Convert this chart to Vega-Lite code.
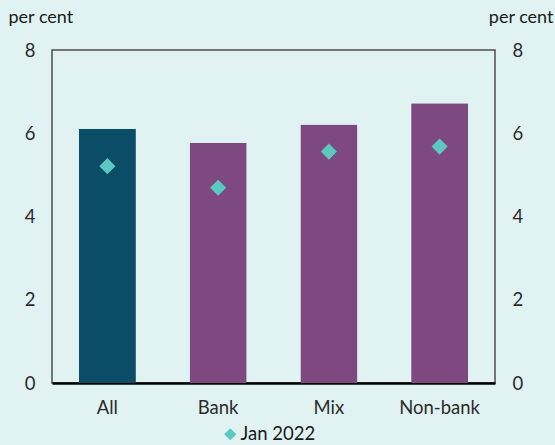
{
  "$schema": "https://vega.github.io/schema/vega-lite/v6.json",
  "width": 443,
  "height": 333,
  "autosize": {"type": "none"},
  "padding": {"left": 52, "top": 50, "right": 60, "bottom": 62},
  "background": "#e0f3f2",
  "config": {
    "font": "Lato",
    "view": {"stroke": "#4d4d4d", "strokeWidth": 1.5},
    "axis": {"labelFont": "Lato", "labelColor": "#2b2b2b", "titleFont": "Lato", "titleColor": "#1a1a1a", "grid": false, "ticks": false}
  },
  "data": {
    "values": [
      {"category": "All", "value": 6.11, "jan2022": 5.21, "group": "all", "series": "Jan 2022"},
      {"category": "Bank", "value": 5.77, "jan2022": 4.69, "group": "other", "series": "Jan 2022"},
      {"category": "Mix", "value": 6.21, "jan2022": 5.56, "group": "other", "series": "Jan 2022"},
      {"category": "Non-bank", "value": 6.72, "jan2022": 5.68, "group": "other", "series": "Jan 2022"}
    ]
  },
  "encoding": {
    "x": {
      "field": "category",
      "type": "nominal",
      "sort": null,
      "scale": {"paddingInner": 0.485, "paddingOuter": 0.2425},
      "axis": {"title": null, "labelAngle": 0, "labelFontSize": 18.5, "labelPadding": 15, "domainColor": "#000000", "domainWidth": 2.5}
    }
  },
  "layer": [
    {
      "mark": {"type": "bar", "cornerRadius": 1},
      "encoding": {
        "y": {
          "field": "value",
          "type": "quantitative",
          "scale": {"domain": [0, 8]},
          "axis": {"values": [0, 2, 4, 6, 8], "domain": false, "labelFontSize": 18.5, "labelPadding": 17, "title": "per cent", "titleAngle": 0, "titleAlign": "left", "titleBaseline": "alphabetic", "titleX": -44, "titleY": -28, "titleFontSize": 18, "titleFontWeight": "normal", "orient": "left"}
        },
        "color": {"field": "group", "type": "nominal", "scale": {"domain": ["all", "other"], "range": ["#0b4d67", "#7d4980"]}, "legend": null}
      }
    },
    {
      "mark": {"type": "point", "shape": "diamond", "filled": true, "size": 260, "opacity": 1},
      "encoding": {
        "y": {
          "field": "jan2022",
          "type": "quantitative",
          "scale": {"domain": [0, 8]},
          "axis": {"values": [0, 2, 4, 6, 8], "domain": false, "labelFontSize": 18.5, "labelPadding": 17, "title": "per cent", "titleAngle": 0, "titleAlign": "right", "titleBaseline": "alphabetic", "titleX": 58, "titleY": -28, "titleFontSize": 18, "titleFontWeight": "normal", "orient": "right"}
        },
        "color": {"field": "series", "type": "nominal", "scale": {"domain": ["Jan 2022"], "range": ["#5cc8c2"]}, "legend": {"title": null, "orient": "none", "legendX": 169, "legendY": 375, "labelFontSize": 18.5, "labelColor": "#1a1a1a", "symbolSize": 150, "symbolType": "diamond", "labelOffset": 1}}
      }
    }
  ],
  "resolve": {"scale": {"y": "shared", "color": "independent"}, "axis": {"y": "independent"}}
}
